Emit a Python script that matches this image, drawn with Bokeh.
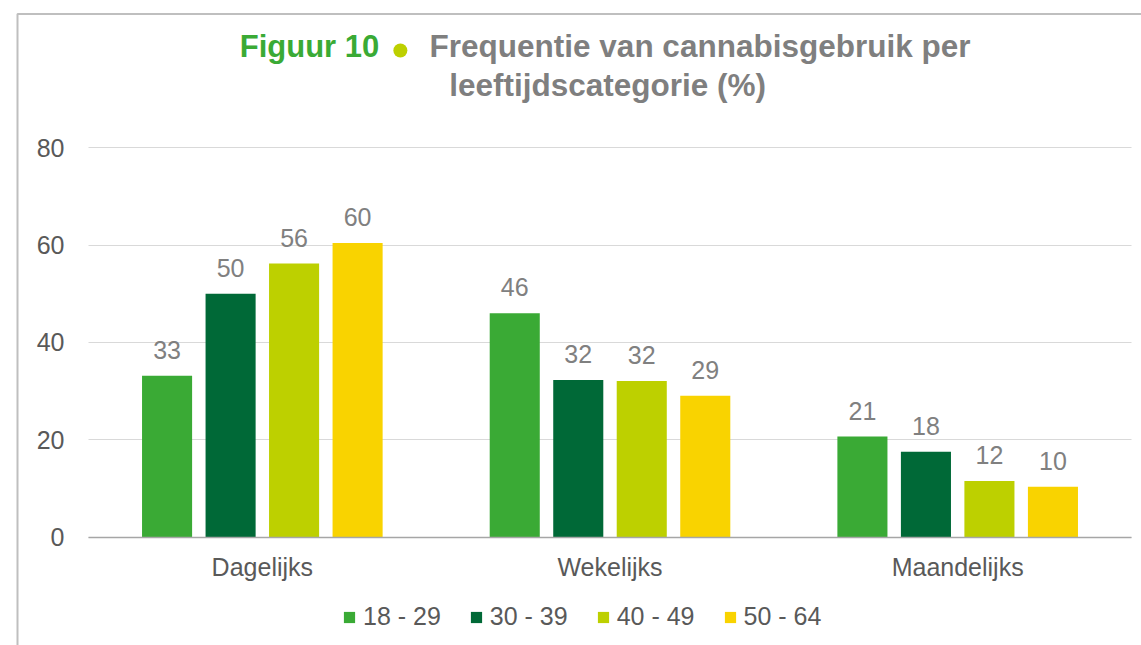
from bokeh.plotting import figure
from bokeh.models import (ColumnDataSource, LabelSet, Legend, LegendItem, Label,
                          Range1d, FixedTicker)
from bokeh.transform import dodge
from bokeh.core.properties import value
from bokeh.embed import file_html
from bokeh.resources import INLINE

# ---- data ----
categories = ["Dagelijks", "Wekelijks", "Maandelijks"]
groups = ["18 - 29", "30 - 39", "40 - 49", "50 - 64"]
v_18_29 = [33.2, 46.0, 20.7]
v_30_39 = [50.0, 32.3, 17.6]
v_40_49 = [56.2, 32.1, 11.6]
v_50_64 = [60.4, 29.1, 10.4]
y_ticks = [0, 20, 40, 60, 80]
colors = ["#3aaa35", "#006937", "#bdd000", "#f9d300"]

series = [v_18_29, v_30_39, v_40_49, v_50_64]
keys = ["g1", "g2", "g3", "g4"]
cat_x = [i + 0.5 for i in range(len(categories))]
data = {"x": cat_x, "cat": categories}
for k, vals in zip(keys, series):
    data[k] = vals
    data[k + "_lbl"] = [str(int(round(v))) for v in vals]
source = ColumnDataSource(data)

FONT = "Liberation Sans"

p = figure(x_range=Range1d(-0.2531, 3.0287), y_range=Range1d(-22.154, 110.154),
           width=1141, height=645, output_backend="svg", toolbar_location=None,
           min_border=0, min_border_left=0, min_border_right=0,
           min_border_top=0, min_border_bottom=0)
p.outline_line_color = None
p.background_fill_color = "white"
p.border_fill_color = "white"

# chart-area border (left and top)
p.line(x=[-0.2042, -0.2042, 3.2], y=[-30, 107.38, 107.38], line_color="#bfbfbf", line_width=2)

offsets = [-0.274, -0.0913, 0.0913, 0.274]
bar_w = 0.144
renderers = []
for k, off, c in zip(keys, offsets, colors):
    r = p.vbar(x=dodge("x", off), top=k, width=bar_w, source=source,
               fill_color=c, line_color=None)
    renderers.append(r)
    lbl = LabelSet(x=dodge("x", off), y=k, text=k + "_lbl", source=source,
                   text_align="center", text_baseline="alphabetic", y_offset=17,
                   text_font=value(FONT), text_font_size=value("25px"), text_color="#808080")
    p.add_layout(lbl)

# axes
p.yaxis.fixed_location = 0
p.yaxis.ticker = FixedTicker(ticks=y_ticks)
p.yaxis.axis_line_color = None
p.yaxis.major_tick_line_color = None
p.yaxis.minor_tick_line_color = None
p.yaxis.major_tick_out = 0
p.yaxis.major_tick_in = 0
p.yaxis.major_label_standoff = 24
p.yaxis.major_label_text_font = FONT
p.yaxis.major_label_text_font_size = "25px"
p.yaxis.major_label_text_color = "#595959"

p.xaxis.fixed_location = 0
p.xaxis.bounds = (0, len(categories))
p.xaxis.ticker = FixedTicker(ticks=cat_x)
p.xaxis.major_label_overrides = {x: c for x, c in zip(cat_x, categories)}
p.xaxis.axis_line_color = "#a6a6a6"
p.xaxis.axis_line_width = 1.5
p.xaxis.major_tick_line_color = None
p.xaxis.minor_tick_line_color = None
p.xaxis.major_tick_out = 0
p.xaxis.major_tick_in = 0
p.xaxis.major_label_standoff = 16
p.xaxis.major_label_text_font = FONT
p.xaxis.major_label_text_font_size = "25px"
p.xaxis.major_label_text_color = "#595959"

p.xgrid.grid_line_color = None
p.ygrid.grid_line_color = "#d9d9d9"
p.ygrid.grid_line_width = 1
try:
    p.ygrid.cross_bounds = (0, len(categories))
except Exception:
    pass

# legend
legend = Legend(items=[LegendItem(label=g, renderers=[r]) for g, r in zip(groups, renderers)],
                orientation="horizontal", location=(342, 14),
                glyph_width=14, glyph_height=14, label_standoff=7, spacing=28,
                padding=0, margin=0, border_line_color=None, background_fill_alpha=0,
                label_text_font=FONT, label_text_font_size="25px", label_text_color="#595959")
p.add_layout(legend)

# title
p.add_layout(Label(x=0.435, y=100.82, text="Figuur 10", text_font=FONT, text_font_size="31px",
                   text_font_style="bold", text_color="#3aaa35", text_align="left",
                   text_baseline="alphabetic"))
p.scatter(x=[0.897], y=[99.9], size=14, marker="circle", fill_color="#bdd000", line_color=None)
p.add_layout(Label(x=0.981, y=100.82, text="Frequentie van cannabisgebruik per", text_font=FONT,
                   text_font_size="31.5px", text_font_style="bold", text_color="#7f7f7f",
                   text_align="left", text_baseline="alphabetic"))
p.add_layout(Label(x=1.493, y=92.82, text="leeftijdscategorie (%)", text_font=FONT,
                   text_font_size="31.5px", text_font_style="bold", text_color="#7f7f7f",
                   text_align="center", text_baseline="alphabetic"))

open("out.html", "w").write(file_html(p, INLINE))
